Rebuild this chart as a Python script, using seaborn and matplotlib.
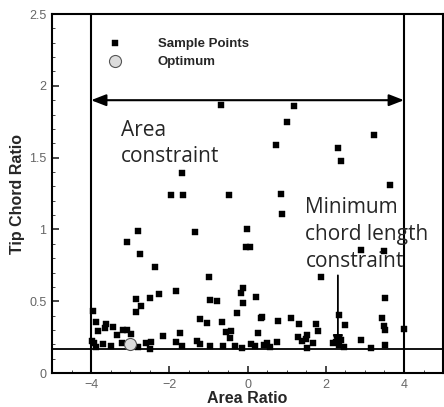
import numpy as np
import pandas as pd
import matplotlib
matplotlib.use("Agg")
import matplotlib.pyplot as plt
from matplotlib.ticker import MultipleLocator, FuncFormatter
import seaborn as sns

# ---- data ----
sample_x = [
    -0.69, 1.19, 1.00, 0.73, 2.32, 2.40, 3.23, 3.64, -0.47, 0.86,
    -1.68, -1.96, -1.65, 0.87, -0.02, -0.04, 0.06, 2.90, 3.50, -2.79,
    -1.35, -3.07, -2.75, -2.37, -0.99, 1.88,
    -1.83, -2.27, -2.49, -2.85, -2.73, -2.86, -0.97, -0.79, -3.96, -0.11,
    -0.16, -0.11, 0.21, 3.52, -0.27, 0.34, 0.38, 0.79, 1.10, 1.32,
    1.76, 1.80, 2.35, 2.48, 3.43, 3.50, 3.52, 4.01, -1.21, -1.03, -0.66,
    -3.88, -3.81, -3.63, -3.64, -3.43, -3.33, -3.18, -3.07, -2.99, -3.98,
    -3.93, -3.70, -3.48, -3.22, -3.88, -2.60, -2.48, -2.49, -2.79, -2.15,
    -1.73, -1.84, -1.67, -1.29, -1.21, -0.96,
    -0.56, -0.43, -0.46, 0.28, 1.30, 1.40, 1.53, 1.49, 0.75, 1.68,
    -0.62, -0.32, -0.13, 0.08, 0.19, 0.42, 0.51, 0.58, 1.53, 2.90,
    3.52, 3.16, 2.18, 2.26, 2.39, 2.46, 2.33,
]
sample_y = [
    1.87, 1.86, 1.75, 1.59, 1.565, 1.476, 1.66, 1.31, 1.24, 1.25,
    1.39, 1.24, 1.24, 1.105, 1.00, 0.88, 0.88, 0.857, 0.85, 0.99,
    0.98, 0.914, 0.827, 0.74, 0.67, 0.666,
    0.573, 0.548, 0.524, 0.513, 0.467, 0.427, 0.508, 0.50, 0.43, 0.594,
    0.555, 0.49, 0.53, 0.52, 0.42, 0.38, 0.392, 0.364, 0.381, 0.341,
    0.341, 0.295, 0.404, 0.334, 0.381, 0.33, 0.30, 0.304, 0.378, 0.35, 0.353,
    0.353, 0.292, 0.339, 0.311, 0.318, 0.265, 0.30, 0.30, 0.27, 0.223,
    0.207, 0.20, 0.19, 0.207, 0.183, 0.211, 0.218, 0.167, 0.183, 0.258,
    0.276, 0.216, 0.19, 0.223, 0.20, 0.19,
    0.283, 0.29, 0.242, 0.276, 0.253, 0.225, 0.265, 0.24, 0.214, 0.207,
    0.188, 0.186, 0.176, 0.20, 0.188, 0.195, 0.207, 0.183, 0.176, 0.23,
    0.195, 0.172, 0.207, 0.218, 0.23, 0.183, 0.195,
]
optimum_x = [-3.0]
optimum_y = [0.20]

area_bounds = [-4, 4]
min_chord = 0.17
x_ticks = [-4, -2, 0, 2, 4]
y_ticks = [0, 0.5, 1, 1.5, 2, 2.5]

samples = pd.DataFrame({"Area Ratio": sample_x, "Tip Chord Ratio": sample_y})
optimum = pd.DataFrame({"Area Ratio": optimum_x, "Tip Chord Ratio": optimum_y})

sns.set_style("ticks")
plt.rcParams["font.family"] = ["Liberation Sans", "DejaVu Sans"]

fig = plt.figure(figsize=(4.44, 4.07), dpi=100)
ax = fig.add_axes([0.117, 0.0835, 0.881, 0.882])

sns.scatterplot(data=samples, x="Area Ratio", y="Tip Chord Ratio", ax=ax,
                marker="s", s=16, color="black", edgecolor="black",
                linewidth=0.3, label="Sample Points", zorder=3)
sns.scatterplot(data=optimum, x="Area Ratio", y="Tip Chord Ratio", ax=ax,
                marker="o", s=75, color="#dcdcdc", edgecolor="#555555",
                linewidth=0.8, label="Optimum", zorder=4)

# constraint lines
for xb in area_bounds:
    ax.axvline(xb, color="black", lw=1.5, zorder=2)
ax.axhline(min_chord, color="black", lw=1.3, zorder=2)

# area constraint double arrow
ax.annotate("", xy=(area_bounds[0], 1.90), xytext=(area_bounds[1], 1.90),
            arrowprops=dict(arrowstyle="<|-|>,head_length=0.9,head_width=0.35",
                            color="black", lw=1.5, shrinkA=0, shrinkB=0),
            zorder=5)
ax.text(-3.24, 1.765, "Area\nconstraint", fontsize=15, family="Open Sans",
        ha="left", va="top", linespacing=1.32, zorder=6)

# minimum chord arrow
ax.annotate("", xy=(2.31, min_chord), xytext=(2.31, 0.68),
            arrowprops=dict(arrowstyle="-|>,head_length=0.8,head_width=0.3",
                            color="black", lw=1.3, shrinkA=0, shrinkB=0),
            zorder=5)
ax.text(1.48, 1.225, "Minimum\nchord length\nconstraint", fontsize=15,
        family="Open Sans", ha="left", va="top", linespacing=1.36,
        zorder=6, clip_on=False)

ax.set_xlim(-5, 5)
ax.set_ylim(0, 2.5)
ax.set_xticks(x_ticks)
ax.set_yticks(y_ticks)
ax.yaxis.set_major_formatter(FuncFormatter(lambda v, p: f"{v:g}"))
ax.xaxis.set_minor_locator(MultipleLocator(0.5))
ax.yaxis.set_minor_locator(MultipleLocator(0.1))
ax.tick_params(which="major", direction="in", length=5, width=1.2,
               labelsize=9, labelcolor="#666666", pad=4)
ax.tick_params(which="minor", direction="in", length=2.5, width=0.6)
for sp in ax.spines.values():
    sp.set_visible(True)
    sp.set_linewidth(1.5)
    sp.set_color("black")

ax.set_xlabel("Area Ratio", fontsize=11.5, fontweight="bold", labelpad=0)
ax.set_ylabel("Tip Chord Ratio", fontsize=11.5, fontweight="bold", labelpad=3)

leg = ax.legend(loc="upper left", bbox_to_anchor=(0.115, 0.95), frameon=False,
                prop={"size": 9.5, "weight": "bold"}, handletextpad=2.2,
                labelspacing=0.45, borderaxespad=0)

fig.savefig("out.png", dpi=100)
